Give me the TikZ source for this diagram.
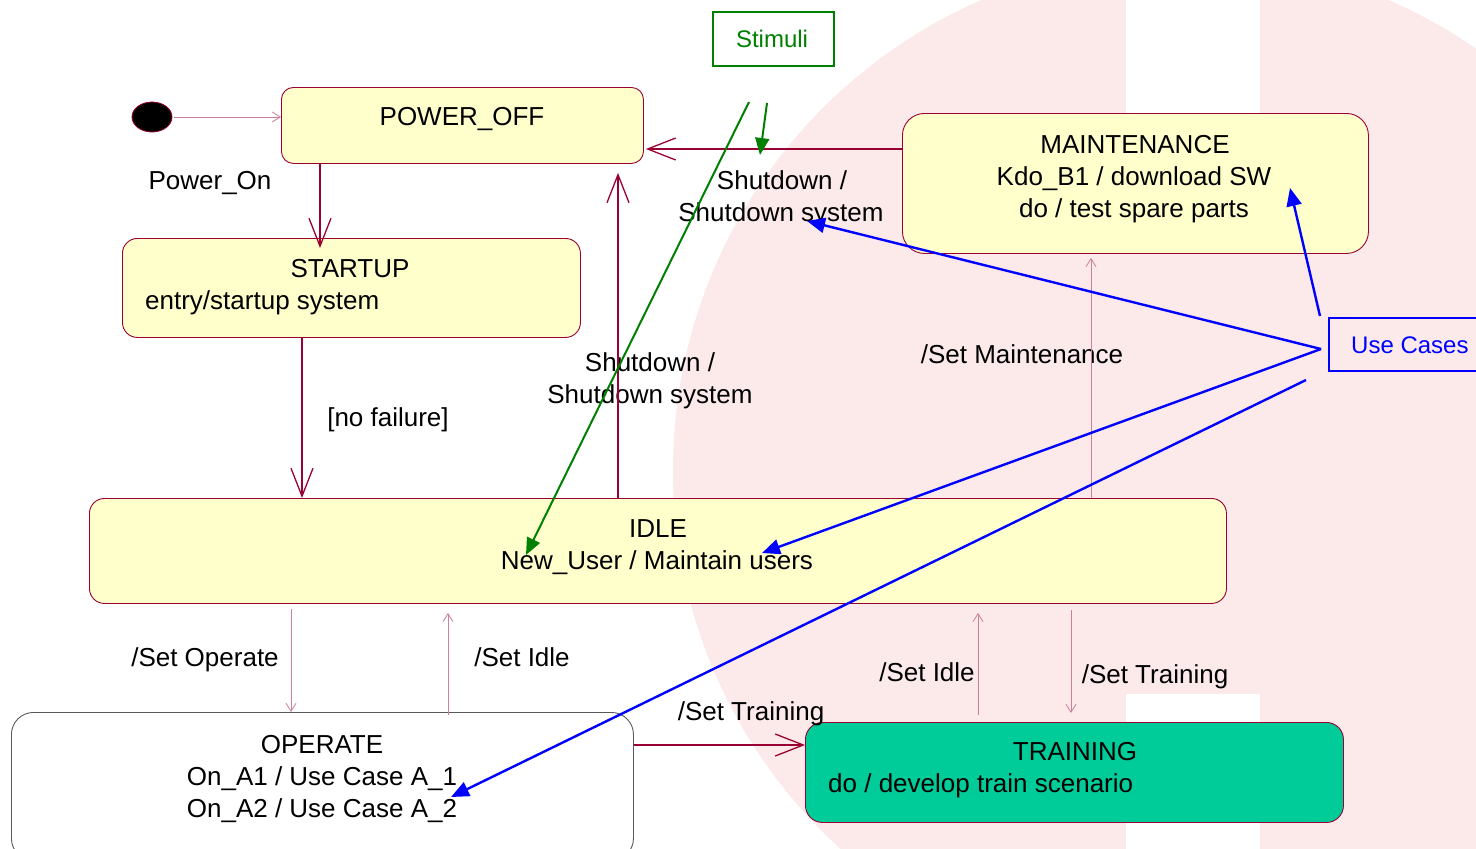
\documentclass[tikz,border=0pt]{standalone}
\usepackage{fontspec}
\setmainfont{Liberation Sans}
\usetikzlibrary{arrows.meta,shapes.geometric}

\definecolor{rosered}{RGB}{153,0,51}
\definecolor{stateyellow}{RGB}{255,255,204}
\definecolor{trainteal}{RGB}{0,204,153}
\definecolor{logopink}{RGB}{252,234,234}
\definecolor{stimgreen}{RGB}{0,128,0}
\definecolor{caseblue}{RGB}{0,0,255}

\begin{document}
\begin{tikzpicture}[x=1pt,y=-1pt,
  statebox/.style={draw=rosered, line width=0.9pt, fill=stateyellow,
    rounded corners=14pt, inner sep=0pt, anchor=north west},
  txt/.style={anchor=base, inner sep=0pt, font=\fontsize{26}{32}\selectfont},
  txtl/.style={txt, anchor=base west},
  trans/.style={draw=rosered, line width=1.3pt,
    -{Straight Barb[length=28pt,width=22pt,line width=1.3pt]}},
  thintrans/.style={draw=rosered!50, line width=0.8pt,
    -{Straight Barb[length=8pt,width=10pt,line width=0.8pt]}},
  stimline/.style={draw=stimgreen, line width=2pt,
    -{Triangle[length=17pt,width=14pt]}},
  caseline/.style={draw=caseblue, line width=2.4pt,
    -{Triangle[length=18pt,width=15pt]}},
]
\useasboundingbox (0,0) rectangle (1476,849);
\clip (0,0) rectangle (1476,849);
\fill[white] (0,0) rectangle (1476,849);

% pale logo in the background
\fill[logopink] (1185,470) circle[radius=512];
\fill[white] (1126,-2) rectangle (1260,200);
\fill[white] (1126,694) rectangle (1260,851);

% states
\node[draw=rosered, fill=black, ellipse, minimum width=40pt, minimum height=30pt,
      inner sep=0pt, line width=0.8pt] (init) at (152,117) {};
\node[statebox, rounded corners=12pt, minimum width=362pt, minimum height=76pt] (poweroff) at (281,87) {};
\node[statebox, rounded corners=15pt, minimum width=458pt, minimum height=99pt] (startup) at (122,238) {};
\node[statebox, rounded corners=22pt, minimum width=466pt, minimum height=140pt] (maint) at (902,113) {};
\node[statebox, rounded corners=15pt, minimum width=1137pt, minimum height=105pt] (idle) at (89,498) {};
\node[statebox, draw=black!65, fill=white, rounded corners=22pt,
      minimum width=622pt, minimum height=148pt] (operate) at (11,712) {};
\node[statebox, fill=trainteal, rounded corners=17pt, minimum width=538pt, minimum height=100pt] (training) at (805,722) {};

% notes
\node[draw=stimgreen, line width=2pt, minimum width=121pt, minimum height=54pt,
      anchor=north west, inner sep=0pt] (stimuli) at (712,11) {};
\node[text=stimgreen, anchor=base, inner sep=0pt, font=\fontsize{24}{28}\selectfont]
      (stimulitext) at (772,47) {Stimuli};
\node[draw=caseblue, line width=2pt, minimum width=170pt, minimum height=53pt,
      anchor=north west, inner sep=0pt] (usecases) at (1328,317) {};
\node[text=caseblue, anchor=base west, inner sep=0pt, font=\fontsize{24}{28}\selectfont]
      (usecasestext) at (1351,353) {Use Cases};

% state texts
\node[txt] (poweroffname) at (462,125) {POWER\_OFF};
\node[txt] (startupname) at (350,277) {STARTUP};
\node[txtl] (startupentry) at (145,309) {entry/startup system};
\node[txt] (maintname) at (1135,153) {MAINTENANCE};
\node[txt] (mainta) at (1134,185) {Kdo\_B1 / download SW};
\node[txt] (maintb) at (1134,217) {do / test spare parts};
\node[txt] (idlename) at (658,537) {IDLE};
\node[txt] (idlea) at (657,569) {New\_User / Maintain users};
\node[txt] (operatename) at (322,753) {OPERATE};
\node[txt] (operatea) at (322,785) {On\_A1 / Use Case A\_1};
\node[txt] (operateb) at (322,817) {On\_A2 / Use Case A\_2};
\node[txt] (trainingname) at (1075,760) {TRAINING};
\node[txtl] (traininga) at (828,792) {do / develop train scenario};

% transition labels
\node[txt] (lpoweron) at (210,189) {Power\_On};
\node[txt] (lnofail) at (388,426) {[no failure]};
\node[txt] (lshutidlea) at (650,371) {Shutdown /};
\node[txt] (lshutidleb) at (650,403) {Shutdown system};
\node[txt] (lshutmainta) at (782,189) {Shutdown /};
\node[txt] (lshutmaintb) at (781,221) {Shutdown system};
\node[txt] (lsetmaint) at (1022,363) {/Set Maintenance};
\node[txt] (lsetop) at (205,666) {/Set Operate};
\node[txt] (lsetidlea) at (522,666) {/Set Idle};
\node[txt] (lsettraina) at (751,720) {/Set Training};
\node[txt] (lsetidleb) at (927,681) {/Set Idle};
\node[txt] (lsettrainb) at (1155,683) {/Set Training};

% transitions
\draw[thintrans, shorten <=2pt] (init.east) -- (poweroff.west |- init.east);
\draw[trans, shorten >=-10pt] (poweroff.south -| 320,0) -- (startup.north -| 320,0);
\draw[trans] (startup.south -| 302,0) -- (idle.north -| 302,0);
\draw[trans, shorten >=9pt] (idle.north -| 618,0) -- (poweroff.south -| 618,0);
\draw[trans, shorten >=2pt] (maint.west |- 0,149) -- (poweroff.east |- 0,149);
\draw[trans] (operate.east |- 0,745) -- (training.west |- 0,745);
\draw[thintrans, shorten <=5pt] (idle.south -| 291,0) -- (operate.north -| 291,0);
\draw[thintrans, shorten <=-3pt, shorten >=9pt] (operate.north -| 448,0) -- (idle.south -| 448,0);
\draw[thintrans, shorten <=7pt, shorten >=9pt] (training.north -| 978,0) -- (idle.south -| 978,0);
\draw[thintrans, shorten <=6pt, shorten >=9pt] (idle.south -| 1071,0) -- (training.north -| 1071,0);
\draw[thintrans, shorten >=4pt] (idle.north -| 1091,0) -- (maint.south -| 1091,0);

% stimuli pointers
\coordinate (stimfroma) at (749,102);
\coordinate (stimfromb) at (767,103);
\coordinate (stimtoidle) at (526,555);
\coordinate (stimtoshut) at (760,155);
\draw[stimline] (stimfroma) -- (stimtoidle);
\draw[stimline] (stimfromb) -- (stimtoshut);

% use case pointers
\coordinate (casefroma) at (1320,316);
\coordinate (casefromb) at (1321,349);
\coordinate (casefromc) at (1306,380);
\coordinate (casetomaint) at (1290,188);
\coordinate (casetoshut) at (807,221);
\coordinate (casetoidle) at (762,553);
\coordinate (casetooperate) at (451,797);
\draw[caseline] (casefroma) -- (casetomaint);
\draw[caseline] (casefromb) -- (casetoshut);
\draw[caseline] (casefromb) -- (casetoidle);
\draw[caseline] (casefromc) -- (casetooperate);
\end{tikzpicture}
\end{document}
